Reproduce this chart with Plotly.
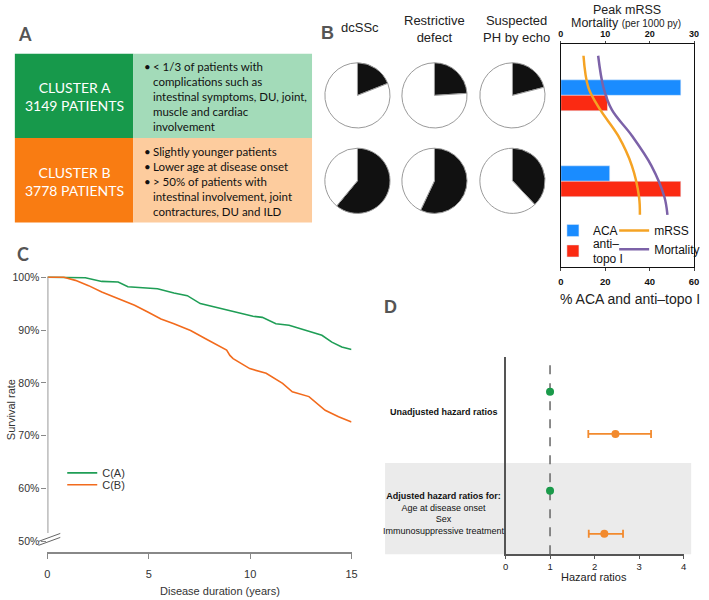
import plotly.graph_objects as go

W, H = 709, 600
def X(px): return px / W
def Y(py): return 1 - py / H

# ---------------- data ----------------
cluster_names = ["CLUSTER A", "CLUSTER B"]
cluster_n = [3149, 3778]
cluster_a_lines = ["&lt; 1/3 of patients with", "complications such as", "intestinal symptoms, DU, joint,",
                   "muscle and cardiac", "involvement"]
cluster_a_bullets = [1, 0, 0, 0, 0]
cluster_b_lines = ["Slightly younger patients", "Lower age at disease onset", "&gt; 50% of patients with",
                   "intestinal involvement, joint", "contractures, DU and ILD"]
cluster_b_bullets = [1, 1, 1, 0, 0]

pie_titles = ["dcSSc", "Restrictive<br>defect", "Suspected<br>PH by echo"]
pie_pct_a = [19, 24, 21]
pie_pct_b = [61, 57, 38]

aca_pct = [54, 22]
topo_pct = [21, 54]
curve_pos = [-0.46, -0.09, 0.17, 0.47, 0.82, 1.18, 1.39]
mrss_curve = [5.1, 6.2, 8.9, 12.9, 16.0, 17.6, 17.8]
mort_curve = [8.4, 9.6, 11.5, 16.0, 20.4, 23.3, 24.0]

t_a = [0, 1.0, 1.87, 2.68, 3.49, 3.97, 4.6, 5.43, 6.24, 6.9, 7.54, 8.2, 8.84, 9.5, 10.14, 10.6,
       11.27, 11.92, 12.73, 13.54, 14.03, 14.52, 15.0]
s_a = [100, 100, 99.9, 99.2, 99.1, 98.2, 98.0, 97.8, 97.0, 96.5, 95.0, 94.4, 93.7, 93.2, 92.6, 92.4,
       91.2, 90.9, 89.9, 89.0, 87.7, 86.8, 86.3]
t_b = [0, 0.81, 1.38, 2.03, 2.68, 3.49, 4.3, 4.95, 5.6, 6.24, 7.06, 7.87, 8.84, 9.0, 9.16, 9.98,
       10.79, 11.6, 12.08, 12.9, 13.7, 14.36, 14.92, 15.0]
s_b = [100, 100, 99.4, 98.4, 97.2, 95.9, 94.7, 93.4, 92.1, 91.2, 89.9, 88.2, 86.2, 85.2, 84.6, 82.7,
       81.8, 79.9, 78.3, 77.4, 74.8, 73.6, 72.8, 72.6]
surv_ticks = [50, 60, 70, 80, 90, 100]
year_ticks = [0, 5, 10, 15]

hr_ref = [1, 1]
hr_b = [2.47, 2.22]
hr_b_lo = [1.86, 1.87]
hr_b_hi = [3.27, 2.64]
hr_ticks = [0, 1, 2, 3, 4]

# colors
DG, LG = "#17994b", "#a3dbb9"
DO, LO = "#f97c12", "#fdcc9e"
GREEN, ORANGE = "#1f9e56", "#f26b1d"
ARIAL = "Liberation Sans, Arial, sans-serif"
CAL = "Lato, Open Sans, sans-serif"

fig = go.Figure()
shapes, ann = [], []

def note(px, py, text, size, color="#222", family=ARIAL, xanchor="center", align="center", **kw):
    ann.append(dict(x=X(px), y=Y(py), xref="paper", yref="paper", showarrow=False, text=text,
                    xanchor=xanchor, yanchor="middle", align=align,
                    font=dict(family=family, size=size, color=color), **kw))

def leg(px, py, size, color):
    return dict(x=X(px), y=Y(py), xanchor="left", yanchor="middle", bgcolor="rgba(0,0,0,0)",
                font=dict(family=ARIAL, size=size, color=color), itemwidth=30)

# ---------------- Panel A ----------------
rows = [(50, 135, DG, LG, cluster_a_lines, cluster_a_bullets),
        (135, 220, DO, LO, cluster_b_lines, cluster_b_bullets)]
for i, (y0, y1, dark, light, lines, bul) in enumerate(rows):
    shapes.append(dict(type="rect", xref="paper", yref="paper", x0=X(12), x1=X(132), y0=Y(y1), y1=Y(y0),
                       fillcolor=dark, line_width=0, layer="below"))
    shapes.append(dict(type="rect", xref="paper", yref="paper", x0=X(132), x1=X(313), y0=Y(y1), y1=Y(y0),
                       fillcolor=light, line_width=0, layer="below"))
    note(72, (y0 + y1) / 2 + 1, f"{cluster_names[i]}<br>{cluster_n[i]} PATIENTS", 14, "white", CAL)
    note(150, (y0 + y1) / 2 + 1, "<br>".join(lines), 11.5, "#111", CAL, xanchor="left", align="left")
    note(141, (y0 + y1) / 2 + 1, "<br>".join("•" if b else " " for b in bul), 11.5, "#111", CAL,
         xanchor="left", align="left")

# panel letters
for lt, px, py, fam in [("A", 22, 30, CAL), ("B", 329, 29, ARIAL), ("C", 20, 252, CAL), ("D", 392, 305, ARIAL)]:
    note(px, py, f"<b>{lt}</b>", 18, "#555", fam)

# ---------------- Panel B pies ----------------
pie_cx = [359, 437, 516]
pie_cy = [92, 178]
R = 33
for j in range(3):
    for r, pct in enumerate([pie_pct_a[j], pie_pct_b[j]]):
        cx, cy = pie_cx[j], pie_cy[r]
        fig.add_trace(go.Pie(values=[pct, 100 - pct], labels=["yes", "no"], sort=False,
                             direction="clockwise", rotation=0, textinfo="none", hoverinfo="percent",
                             marker=dict(colors=["#111111", "#ffffff"], line=dict(color="#9a9a9a", width=1)),
                             domain=dict(x=[X(cx - R), X(cx + R)], y=[Y(cy + R), Y(cy - R)]),
                             showlegend=False))
note(362, 24, pie_titles[0], 13, "#222")
note(437, 25, pie_titles[1], 13, "#222")
note(520, 25, pie_titles[2], 13, "#222")

# ---------------- Panel B bars ----------------
fig.add_trace(go.Bar(y=[0, 1], x=aca_pct, orientation="h", name="ACA", marker_color="#1a8cff",
                     xaxis="x2", yaxis="y2", legend="legend2"))
fig.add_trace(go.Bar(y=[0, 1], x=topo_pct, orientation="h", name="anti–<br>topo I", marker_color="#fb2a12",
                     xaxis="x2", yaxis="y2", legend="legend3"))
fig.add_trace(go.Scatter(y=curve_pos, x=mrss_curve, mode="lines", name="mRSS",
                         line=dict(color="#f5a324", width=2.5, shape="spline", smoothing=1),
                         xaxis="x3", yaxis="y2", legend="legend4"))
fig.add_trace(go.Scatter(y=curve_pos, x=mort_curve, mode="lines", name="Mortality",
                         line=dict(color="#7c62a8", width=2.5, shape="spline", smoothing=1),
                         xaxis="x3", yaxis="y2", legend="legend5"))
note(632, 6, "Peak mRSS", 12.5, "#222")
note(631, 19, "Mortality <span style='font-size:10px'>(per 1000 py)</span>", 12.5, "#222")
note(635, 297, "% ACA and anti–topo I", 14, "#222")

# ---------------- Panel C survival ----------------
fig.add_trace(go.Scatter(x=t_a, y=s_a, mode="lines", name="C(A)", line=dict(color=GREEN, width=1.6),
                         xaxis="x", yaxis="y", legend="legend"))
fig.add_trace(go.Scatter(x=t_b, y=s_b, mode="lines", name="C(B)", line=dict(color=ORANGE, width=1.6),
                         xaxis="x", yaxis="y", legend="legend6"))
shapes.append(dict(type="line", xref="x", yref="y", x0=0, x1=0, y0=51.6, y1=100,
                   line=dict(color="#999", width=2)))
for dy in (0, 4):
    shapes.append(dict(type="line", xref="paper", yref="paper", x0=X(36), x1=X(58), y0=Y(545 - dy),
                       y1=Y(537 - dy), line=dict(color="#666", width=1)))
note(220, 591, "Disease duration (years)", 11, "#333")
note(8, 408, "Survival rate", 11, "#333", textangle=-90)

# ---------------- Panel D forest ----------------
pos_ref = [3.81, 1.49]
pos_b = [2.82, 0.48]
shapes.append(dict(type="rect", xref="paper", yref="paper", x0=X(387), x1=X(697), y0=Y(554), y1=Y(462),
                   fillcolor="#ebebeb", line_width=0, layer="below"))
shapes.append(dict(type="line", xref="x4", yref="y4 domain", x0=1, x1=1, y0=0, y1=1,
                   line=dict(color="#666", width=1.5, dash="dash"), layer="below"))
fig.add_trace(go.Scatter(x=hr_ref, y=pos_ref, mode="markers", marker=dict(color="#1a9a4a", size=8),
                         xaxis="x4", yaxis="y4", showlegend=False))
fig.add_trace(go.Scatter(x=hr_b, y=pos_b, mode="markers", marker=dict(color="#f28a2e", size=8),
                         error_x=dict(type="data", symmetric=False,
                                      array=[h - m for h, m in zip(hr_b_hi, hr_b)],
                                      arrayminus=[m - l for m, l in zip(hr_b, hr_b_lo)],
                                      color="#f28a2e", thickness=1.8, width=4),
                         xaxis="x4", yaxis="y4", showlegend=False))
note(447, 411, "<b>Unadjusted hazard ratios</b>", 9, "#111")
note(447, 513, "<b>Adjusted hazard ratios for:</b><br>Age at disease onset<br>Sex<br>Immunosuppressive treatment",
     9, "#111")
note(599, 577, "Hazard ratios", 11, "#222")

# ---------------- layout ----------------
fig.update_layout(
    width=W, height=H, margin=dict(l=0, r=0, t=0, b=0),
    paper_bgcolor="white", plot_bgcolor="rgba(0,0,0,0)",
    barmode="group", bargap=0.64, bargroupgap=0,
    shapes=shapes, annotations=ann,
    xaxis=dict(domain=[X(45), X(353)], range=[0, 15], anchor="y", tickvals=year_ticks,
               showline=True, linecolor="#888", linewidth=1.5, ticks="outside", ticklen=5, tickcolor="#888",
               showgrid=False, zeroline=False, tickfont=dict(family=ARIAL, size=11, color="#333"),
               ticklabelstandoff=6),
    yaxis=dict(domain=[Y(552), Y(273)], range=[47.93, 100.38], anchor="x", tickvals=surv_ticks,
               ticktext=[f"{v}%" for v in surv_ticks], ticks="outside", ticklen=5, tickcolor="#888",
               showline=False, showgrid=False, zeroline=False,
               tickfont=dict(family=ARIAL, size=10.5, color="#333")),
    xaxis2=dict(domain=[X(565), X(700)], range=[0, 60], anchor="y2", tickvals=[0, 20, 40, 60],
                showline=True, mirror=True, linecolor="#111", linewidth=1, ticks="outside", ticklen=3,
                showgrid=False, zeroline=False, ticklabelstandoff=2,
                tickfont=dict(family=ARIAL, size=9.5, color="#111", weight="bold")),
    xaxis3=dict(overlaying="x2", side="top", range=[0, 30], anchor="y2", tickvals=[0, 10, 20, 30],
                showline=True, linecolor="#111", linewidth=1, ticks="outside", ticklen=2,
                showgrid=False, zeroline=False, ticklabelstandoff=0,
                tickfont=dict(family=ARIAL, size=9, color="#111", weight="bold")),
    yaxis2=dict(domain=[Y(265), Y(40)], range=[2.0, -0.6], anchor="x2", showticklabels=False,
                showline=True, mirror=True, linecolor="#111", linewidth=1, ticks="",
                showgrid=False, zeroline=False),
    xaxis4=dict(domain=[X(509), X(689.3)], range=[0, 4], anchor="y4", tickvals=hr_ticks,
                showline=True, linecolor="#555", linewidth=1.5, ticks="outside", ticklen=3, tickcolor="#555",
                showgrid=False, zeroline=False, ticklabelstandoff=0,
                tickfont=dict(family=ARIAL, size=9.5, color="#222")),
    yaxis4=dict(domain=[Y(554), Y(355)], range=[0, 4.63], anchor="x4", showticklabels=False,
                showline=True, linecolor="#555", linewidth=2, ticks="", showgrid=False, zeroline=False),
    legend=leg(60, 472, 11, "#333"),
    legend6=leg(60, 484, 11, "#333"),
    legend2=leg(557, 228, 12, "#111"),
    legend3=leg(557, 249, 12, "#111"),
    legend4=leg(619, 228, 12, "#111"),
    legend5=leg(619, 247, 12, "#111"),
)

fig.write_html("out.html", config={"displayModeBar": False},
               post_script="document.body.style.margin='0';document.body.style.overflow='hidden';")
